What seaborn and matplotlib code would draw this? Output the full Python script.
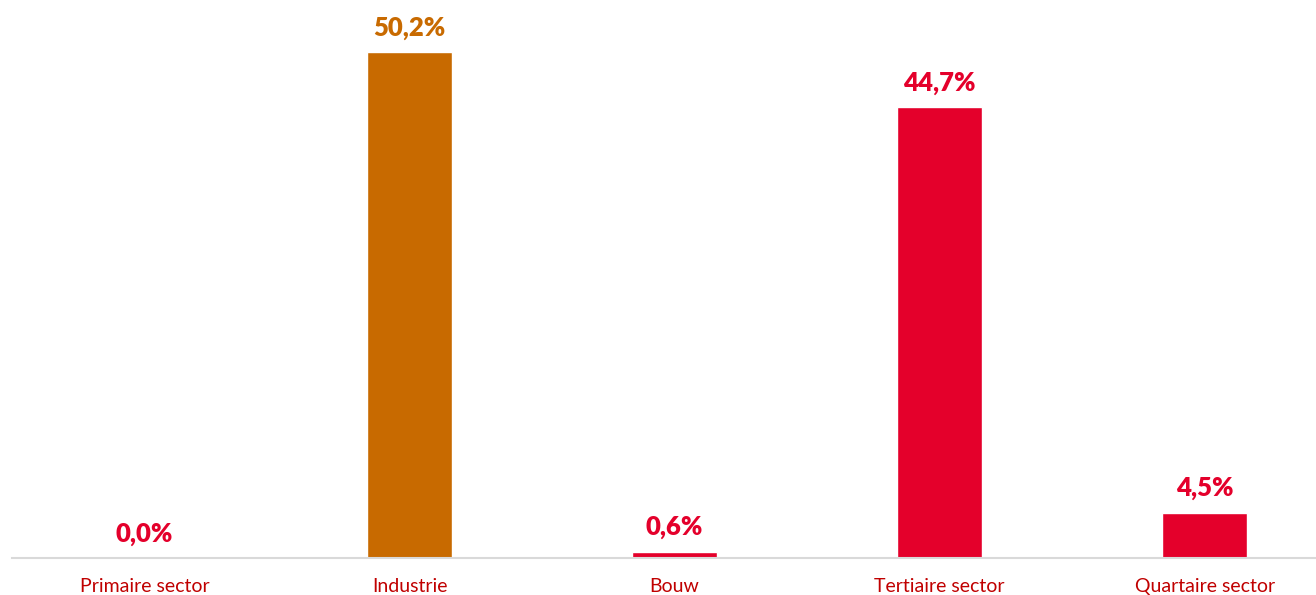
import matplotlib.pyplot as plt
import seaborn as sns
import pandas as pd

# Data
sectors = ['Primaire sector', 'Industrie', 'Bouw', 'Tertiaire sector', 'Quartaire sector']
shares = [0.0, 50.2, 0.6, 44.7, 4.5]
labels = ['0,0%', '50,2%', '0,6%', '44,7%', '4,5%']
bar_colors = ['#E4002B', '#C86A00', '#E4002B', '#E4002B', '#E4002B']

df = pd.DataFrame({'sector': sectors, 'share': shares})

sns.set_style('white')
plt.rcParams['font.family'] = ['Lato', 'DejaVu Sans']

fig = plt.figure(figsize=(13.16, 5.95), dpi=100)
ax = fig.add_axes([12 / 1316, 37 / 595, 1304 / 1316, 558 / 595])

sns.barplot(data=df, x='sector', y='share', hue='sector', palette=bar_colors,
            legend=False, width=0.32, saturation=1, ax=ax)

ax.set_xlim(-0.5, 4.42)
ax.set_ylim(0, 55.36)

for i, (v, txt) in enumerate(zip(shares, labels)):
    ax.annotate(txt, (i, v), xytext=(0, 9), textcoords='offset points',
                ha='center', va='bottom', fontsize=18.5, fontweight='heavy',
                color=bar_colors[i])

ax.set_xlabel('')
ax.set_ylabel('')
ax.set_yticks([])
ax.tick_params(axis='x', length=0, pad=14.5, labelsize=14, labelcolor='#C00000')
for s in ['top', 'right', 'left']:
    ax.spines[s].set_visible(False)
ax.spines['bottom'].set_color('#D9D9D9')
ax.spines['bottom'].set_linewidth(1.5)

fig.savefig('out.png', dpi=100)
